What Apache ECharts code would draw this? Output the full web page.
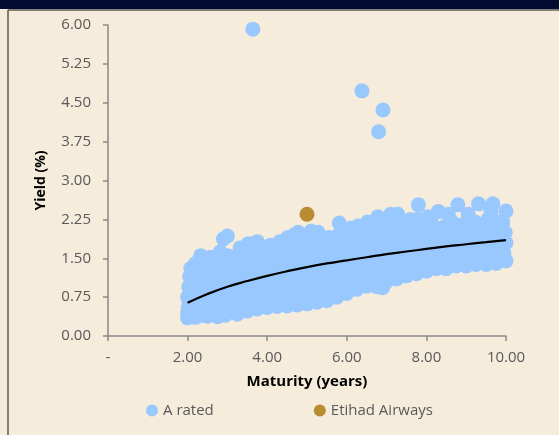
<!DOCTYPE html>
<html><head><meta charset="utf-8">
<script src="https://cdn.jsdelivr.net/npm/echarts@6/dist/echarts.min.js"></script>
<style>html,body{margin:0;padding:0;background:#F5ECDC;}#c{width:559px;height:435px;}</style>
</head><body><div id="c"></div>
<script>
const xTicks = [0, 2, 4, 6, 8, 10];
const yTicks = [0, 0.75, 1.5, 2.25, 3, 3.75, 4.5, 5.25, 6];
const aRated = [
[2.0,0.35],[2.02,0.55],[2.0,0.75],[2.03,0.95],[2.05,1.15],[2.08,1.30],[2.0,0.45],[2.04,0.65],
[2.2,0.36],[2.25,0.6],[2.22,0.85],[2.28,1.05],[2.3,1.25],[2.33,1.55],[2.26,0.48],[2.2,1.4],
[2.5,0.38],[2.48,0.62],[2.55,0.82],[2.5,1.02],[2.45,1.2],[2.52,1.4],[2.58,1.52],[2.6,0.5],
[2.75,0.37],[2.72,0.58],[2.8,0.8],[2.76,1.0],[2.7,1.2],[2.78,1.45],[2.82,1.62],[2.85,0.45],
[2.95,0.4],[3.0,0.6],[3.02,0.85],[2.98,1.1],[3.05,1.3],[3.0,1.55],[2.9,1.87],[3.0,1.93],
[3.25,0.42],[3.2,0.65],[3.28,0.88],[3.22,1.12],[3.3,1.35],[3.25,1.55],[3.32,1.7],[3.18,1.45],
[3.5,0.48],[3.45,0.7],[3.55,0.95],[3.5,1.2],[3.48,1.42],[3.55,1.62],[3.52,1.78],[3.42,0.58],
[3.75,0.52],[3.7,0.75],[3.8,1.0],[3.78,1.22],[3.72,1.45],[3.8,1.65],[3.75,1.82],[3.85,0.62],
[4.0,0.55],[3.95,0.78],[4.05,1.02],[4.0,1.25],[4.02,1.5],[3.98,1.68],[4.08,1.75],[4.1,0.68],
[4.25,0.57],[4.2,0.8],[4.3,1.05],[4.22,1.3],[4.28,1.52],[4.25,1.72],[4.32,1.82],[4.18,0.95],
[4.5,0.58],[4.45,0.82],[4.55,1.08],[4.5,1.32],[4.48,1.55],[4.55,1.75],[4.52,1.9],[4.42,0.7],
[4.75,0.6],[4.7,0.85],[4.8,1.1],[4.75,1.35],[4.72,1.6],[4.8,1.8],[4.78,2.0],[4.68,1.95],
[5.0,0.62],[4.95,0.88],[5.05,1.12],[5.0,1.38],[4.98,1.62],[5.05,1.85],[5.1,2.02],[5.12,0.75],
[5.25,0.65],[5.2,0.9],[5.3,1.15],[5.25,1.4],[5.22,1.65],[5.3,1.85],[5.28,2.0],[5.35,0.78],
[5.5,0.68],[5.45,0.92],[5.55,1.18],[5.5,1.42],[5.48,1.68],[5.55,1.9],[5.42,1.8],[5.6,0.8],
[5.75,0.75],[5.7,0.98],[5.8,1.22],[5.75,1.45],[5.72,1.7],[5.8,1.95],[5.81,2.18],[5.68,0.85],
[6.0,0.82],[5.95,1.05],[6.05,1.28],[6.0,1.5],[5.98,1.72],[6.05,1.95],[6.1,2.08],[6.15,0.92],
[6.25,0.9],[6.2,1.1],[6.3,1.32],[6.25,1.55],[6.22,1.78],[6.3,1.98],[6.28,2.12],[6.35,1.0],
[6.5,0.96],[6.45,1.15],[6.55,1.38],[6.5,1.6],[6.48,1.82],[6.55,2.02],[6.52,2.2],[6.6,1.05],
[6.75,0.95],[6.7,1.18],[6.8,1.4],[6.75,1.62],[6.72,1.85],[6.8,2.08],[6.78,2.3],[6.9,0.93],
[7.0,1.05],[6.95,1.22],[7.05,1.45],[7.0,1.68],[6.98,1.9],[7.05,2.12],[7.1,2.35],[7.15,1.15],
[7.25,1.1],[7.2,1.28],[7.3,1.5],[7.25,1.72],[7.22,1.95],[7.3,2.15],[7.28,2.35],[7.35,1.2],
[7.5,1.16],[7.45,1.32],[7.55,1.52],[7.5,1.75],[7.48,1.98],[7.55,2.18],[7.45,1.16],[7.6,2.25],
[7.75,1.2],[7.7,1.38],[7.8,1.58],[7.75,1.8],[7.72,2.05],[7.8,2.53],[7.78,2.25],[7.85,1.3],
[8.0,1.25],[7.95,1.42],[8.05,1.62],[8.0,1.85],[7.98,2.05],[8.03,2.3],[8.1,1.5],
[8.25,1.3],[8.2,1.45],[8.3,1.65],[8.25,1.88],[8.22,2.1],[8.3,2.4],[8.35,1.55],
[8.5,1.3],[8.45,1.48],[8.55,1.68],[8.5,1.9],[8.48,2.12],[8.55,2.35],[8.6,1.4],
[8.75,1.35],[8.7,1.5],[8.8,1.7],[8.75,1.92],[8.72,2.15],[8.79,2.53],[8.85,1.42],
[9.0,1.35],[8.95,1.52],[9.05,1.72],[9.0,1.95],[8.98,2.18],[9.05,2.35],[9.1,1.45],
[9.25,1.38],[9.2,1.55],[9.3,1.75],[9.25,1.98],[9.22,2.2],[9.31,2.55],[9.35,1.45],
[9.5,1.38],[9.45,1.55],[9.55,1.75],[9.5,1.95],[9.48,2.15],[9.55,2.25],[9.6,1.48],
[9.75,1.4],[9.7,1.58],[9.8,1.78],[9.75,2.0],[9.72,2.22],[9.67,2.55],[9.85,1.5],
[10.0,1.45],[9.95,1.6],[10.0,1.8],[9.98,2.0],[10.0,2.41],[9.92,2.2],[10.02,1.52],
[2.12,0.42],[2.12,0.7],[2.12,1.0],[2.12,1.22],
[2.37,0.4],[2.37,0.72],[2.37,0.95],[2.37,1.3],
[2.62,0.42],[2.62,0.7],[2.62,0.92],[2.62,1.3],
[2.87,0.5],[2.87,0.72],[2.87,0.98],[2.87,1.35],[2.87,1.5],
[3.12,0.5],[3.12,0.75],[3.12,1.0],[3.12,1.22],[3.12,1.45],
[3.37,0.55],[3.37,0.8],[3.37,1.05],[3.37,1.3],[3.37,1.55],
[3.62,0.6],[3.62,0.85],[3.62,1.1],[3.62,1.35],[3.62,1.58],
[3.87,0.65],[3.87,0.9],[3.87,1.12],[3.87,1.38],[3.87,1.6],
[4.12,0.65],[4.12,0.92],[4.12,1.15],[4.12,1.4],[4.12,1.62],
[4.37,0.68],[4.37,0.95],[4.37,1.18],[4.37,1.42],[4.37,1.65],
[4.62,0.7],[4.62,0.98],[4.62,1.22],[4.62,1.45],[4.62,1.7],
[4.87,0.72],[4.87,1.0],[4.87,1.25],[4.87,1.5],[4.87,1.75],
[5.12,1.0],[5.12,1.28],[5.12,1.52],[5.12,1.78],
[5.37,1.02],[5.37,1.3],[5.37,1.55],[5.37,1.75],
[5.62,0.85],[5.62,1.08],[5.62,1.32],[5.62,1.58],[5.62,1.82],
[5.87,0.88],[5.87,1.12],[5.87,1.35],[5.87,1.6],[5.87,1.85],
[6.12,1.18],[6.12,1.4],[6.12,1.62],[6.12,1.88],
[6.37,1.22],[6.37,1.45],[6.37,1.68],[6.37,1.9],
[6.62,1.28],[6.62,1.5],[6.62,1.72],[6.62,1.95],
[6.87,1.1],[6.87,1.32],[6.87,1.55],[6.87,1.78],[6.87,2.0],
[7.12,1.35],[7.12,1.58],[7.12,1.8],[7.12,2.02],
[7.37,1.4],[7.37,1.62],[7.37,1.85],[7.37,2.05],
[7.62,1.28],[7.62,1.45],[7.62,1.65],[7.62,1.88],[7.62,2.08],
[7.87,1.5],[7.87,1.7],[7.87,1.92],
[8.12,1.38],[8.12,1.75],[8.12,1.98],[8.12,2.2],
[8.37,1.42],[8.37,1.78],[8.37,2.0],
[8.62,1.58],[8.62,1.8],[8.62,2.02],[8.62,2.22],
[8.87,1.6],[8.87,1.82],[8.87,2.05],
[9.12,1.62],[9.12,1.85],[9.12,2.08],
[9.37,1.65],[9.37,1.88],[9.37,2.1],
[9.62,1.65],[9.62,1.88],[9.62,2.08],[9.62,2.4],
[9.87,1.68],[9.87,1.9],[9.87,2.1],
[3.64,5.92],[6.38,4.73],[6.91,4.36],[6.8,3.94]
];
const etihad = [[5.0,2.35]];
const trendX = [2,2.5,3,3.5,4,4.5,5,5.5,6,6.5,7,7.5,8,8.5,9,9.5,10];
const trendY = [0.64,0.81,0.95,1.06,1.16,1.25,1.33,1.40,1.46,1.52,1.58,1.63,1.68,1.73,1.77,1.81,1.85];

const FONT = 'Open Sans';
const chart = echarts.init(document.getElementById('c'));
chart.setOption({
  backgroundColor: '#F5ECDC',
  animation: false,
  textStyle: {fontFamily: FONT},
  graphic: [
    {type:'rect', shape:{x:0,y:0,width:559,height:9}, style:{fill:'#020C30'}},
    {type:'line', shape:{x1:8,y1:10,x2:559,y2:10}, style:{stroke:'#5a5a5a', lineWidth:1.5}},
    {type:'line', shape:{x1:8,y1:10,x2:8,y2:435}, style:{stroke:'#5a5a5a', lineWidth:1.5}}
  ],
  grid: {left:108, right:53, top:25, bottom:99},
  legend: {
    data:['A rated','Etihad Airways'], bottom:12, left:141, itemGap:100,
    icon:'circle', itemWidth:12, itemHeight:12,
    textStyle:{fontFamily:FONT, fontSize:15, color:'#595959'}
  },
  xAxis: {
    type:'value', min:xTicks[0], max:xTicks[xTicks.length-1], interval:2,
    name:'Maturity (years)', nameLocation:'middle', nameGap:38,
    nameTextStyle:{fontFamily:FONT, fontSize:15, fontWeight:'bold', color:'#000'},
    axisLine:{lineStyle:{color:'#8a8a8a', width:1.5}},
    axisTick:{lineStyle:{color:'#8a8a8a', width:1.5}, length:5},
    splitLine:{show:false},
    axisLabel:{margin:14, fontSize:15, color:'#595959', formatter:v => v === 0 ? '-' : v.toFixed(2)}
  },
  yAxis: {
    type:'value', min:yTicks[0], max:yTicks[yTicks.length-1], interval:0.75,
    name:'Yield (%)', nameLocation:'middle', nameGap:60,
    nameTextStyle:{fontFamily:FONT, fontSize:14, fontWeight:'bold', color:'#000'},
    axisLine:{show:true, lineStyle:{color:'#8a8a8a', width:1.5}},
    axisTick:{show:true, lineStyle:{color:'#8a8a8a', width:1.5}, length:5},
    splitLine:{show:false},
    axisLabel:{margin:17, fontSize:15, color:'#595959', formatter:v => v.toFixed(2)}
  },
  series: [
    {name:'A rated', type:'scatter', data:aRated, symbolSize:15,
     itemStyle:{color:'#99C8FF', opacity:1, borderWidth:0, shadowBlur:0}},
    {name:'Etihad Airways', type:'scatter', data:etihad, symbolSize:15,
     itemStyle:{color:'#B88D31', opacity:1, borderWidth:0}},
    {name:'trend', type:'line', data:trendX.map((x,i)=>[x,trendY[i]]), smooth:true,
     showSymbol:false, lineStyle:{color:'#000', width:2.2}, z:5}
  ]
});
</script></body></html>
